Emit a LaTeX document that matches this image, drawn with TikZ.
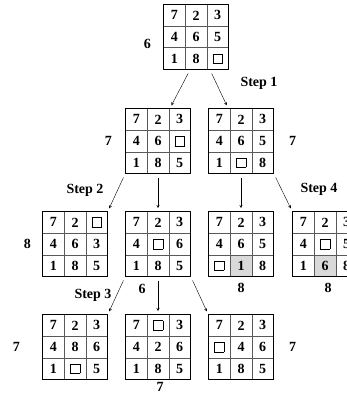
\documentclass[tikz,border=0pt]{standalone}
\usepackage{fontspec}
\setmainfont{Liberation Serif}
\usetikzlibrary{matrix,positioning}

% empty tile of the puzzle
\newcommand{\blank}{{\fboxsep=0pt\fboxrule=0.5pt\fbox{\phantom{\rule{9pt}{9pt}}}}}

\tikzset{
  board/.style={matrix of nodes, inner sep=0pt, column sep=-0.6pt, row sep=-0.6pt,
    nodes={draw=black!65, line width=0.6pt, minimum size=21.6pt, inner sep=0pt, anchor=center}},
  frame/.style={line width=0.9pt},
  hl/.style={fill=black!15},
  lbl/.style={inner sep=0pt},
  arr/.style={->, shorten <=4pt, shorten >=3pt},
}

\begin{document}
\begin{tikzpicture}[x=1pt, y=-1pt, >=stealth, line join=round,
    font=\fontsize{14}{16}\selectfont\bfseries]
  \useasboundingbox (0,0) rectangle (347,393);

  % start state
  \matrix (s0) at (196,37) [board] {
    7 & 2 & 3 \\
    4 & 6 & 5 \\
    1 & 8 & \blank \\
  };
  % first level
  \matrix (l) at (158,141) [board] {
    7 & 2 & 3 \\
    4 & 6 & \blank \\
    1 & 8 & 5 \\
  };
  \matrix (r) at (241,141) [board] {
    7 & 2 & 3 \\
    4 & 6 & 5 \\
    1 & \blank & 8 \\
  };
  % second level
  \matrix (a) at (75,244) [board] {
    7 & 2 & \blank \\
    4 & 6 & 3 \\
    1 & 8 & 5 \\
  };
  \matrix (b) at (158,244) [board] {
    7 & 2 & 3 \\
    4 & \blank & 6 \\
    1 & 8 & 5 \\
  };
  \matrix (c) at (241,244) [board] {
    7 & 2 & 3 \\
    4 & 6 & 5 \\
    \blank & |[hl]| 1 & 8 \\
  };
  \matrix (d) at (325,244) [board] {
    7 & 2 & 3 \\
    4 & \blank & 5 \\
    1 & |[hl]| 6 & 8 \\
  };
  % third level
  \matrix (e) at (75,347) [board] {
    7 & 2 & 3 \\
    4 & 8 & 6 \\
    1 & \blank & 5 \\
  };
  \matrix (f) at (158,347) [board] {
    7 & \blank & 3 \\
    4 & 2 & 6 \\
    1 & 8 & 5 \\
  };
  \matrix (g) at (241,347) [board] {
    7 & 2 & 3 \\
    \blank & 4 & 6 \\
    1 & 8 & 5 \\
  };

  % outer frames on top of the cell lines
  \foreach \b in {s0,l,r,a,b,c,d,e,f,g}
    \draw[frame] (\b.south west) rectangle (\b.north east);

  % moves
  \draw[arr] ([xshift=-6pt]s0.south) -- ([xshift=12pt]l.north);
  \draw[arr] ([xshift=14pt]s0.south) -- ([xshift=-13pt]r.north);
  \draw[arr] (l.south west) -- (a.north east);
  \draw[arr] (l.south) -- (b.north);
  \draw[arr] (r.south) -- (c.north);
  \draw[arr] (r.south east) -- (d.north west);
  \draw[arr] (b.south west) -- (e.north east);
  \draw[arr] (b.south) -- (f.north);
  \draw[arr] (b.south east) -- (g.north west);

  % costs
  \node[lbl, left=12pt of s0, yshift=-7pt] (h0) {6};
  \node[lbl, left=13pt of l] (hl) {7};
  \node[lbl, right=15pt of r] (hr) {7};
  \node[lbl, left=11pt of a] (ha) {8};
  \node[lbl, below=7pt of b, xshift=-16pt] (hb) {6};
  \node[lbl, below=6pt of c] (hc) {8};
  \node[lbl, below=6pt of d, xshift=3pt] (hd) {8};
  \node[lbl, left=22pt of e] (he) {7};
  \node[lbl, below=2pt of f, xshift=2pt] (hf) {7};
  \node[lbl, right=15pt of g] (hg) {7};

  % step labels
  \node (st1) at (259,83) {Step 1};
  \node (st2) at (85,190) {Step 2};
  \node (st3) at (93,295) {Step 3};
  \node (st4) at (319,189) {Step 4};
\end{tikzpicture}
\end{document}
